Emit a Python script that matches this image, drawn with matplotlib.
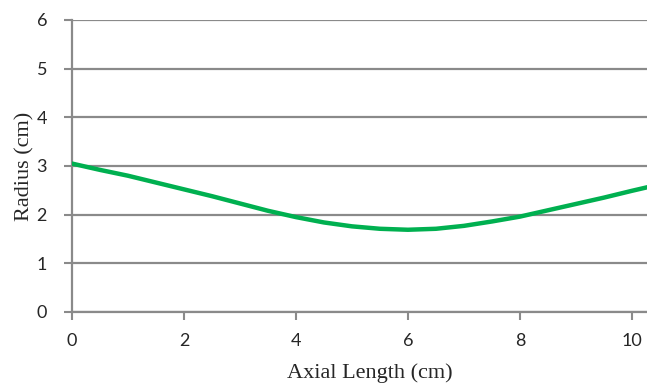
import matplotlib

matplotlib.use("Agg")
import matplotlib.pyplot as plt

# values
axial_length = [0.0, 0.5, 1.0, 1.5, 2.0, 2.5, 3.0, 3.5, 4.0, 4.5, 5.0, 5.5,
                6.0, 6.5, 7.0, 7.5, 8.0, 8.5, 9.0, 9.5, 10.0, 10.3]
radius = [3.05, 2.92, 2.80, 2.66, 2.52, 2.38, 2.23, 2.08, 1.95, 1.84, 1.76, 1.71,
          1.69, 1.71, 1.77, 1.86, 1.96, 2.09, 2.22, 2.35, 2.49, 2.57]
x_ticks = [0, 2, 4, 6, 8, 10]
y_ticks = [0, 1, 2, 3, 4, 5, 6]

GRID = "#8a8a8a"
GREEN = "#00b050"
TEXT = "#262626"

fig = plt.figure(figsize=(6.47, 3.88), dpi=100)
ax = fig.add_axes([72 / 647, (388 - 312) / 388, 1 - 72 / 647, (312 - 20) / 388])

ax.plot(axial_length, radius, color=GREEN, linewidth=3.2, solid_capstyle="round", zorder=3)

ax.set_xlim(0, 10.27)
ax.set_ylim(0, 6)
ax.set_xticks(x_ticks)
ax.set_yticks(y_ticks)
ax.yaxis.grid(True, color=GRID, linewidth=1.6)
ax.set_axisbelow(True)

for side in ["top", "right"]:
    ax.spines[side].set_visible(False)
for side in ["left", "bottom"]:
    ax.spines[side].set_color(GRID)
    ax.spines[side].set_linewidth(1.6)

ax.tick_params(axis="both", color=GRID, width=1.5, length=6, labelsize=13,
               labelcolor=TEXT)
ax.tick_params(axis="x", pad=9)
ax.tick_params(axis="y", pad=12)
for label in ax.get_xticklabels() + ax.get_yticklabels():
    label.set_family("Lato")

# the original plot area runs past the right edge of the image, so the
# x title sits a little right of the visible centre
ax.set_xlabel("Axial Length (cm)", family="Liberation Serif", fontsize=16,
              color=TEXT)
ax.xaxis.set_label_coords(0.518, -0.175)
ax.set_ylabel("Radius (cm)", family="Liberation Serif", fontsize=16,
              color=TEXT)
ax.yaxis.set_label_coords(-0.066, 0.5)

fig.savefig("out.png", dpi=100)
